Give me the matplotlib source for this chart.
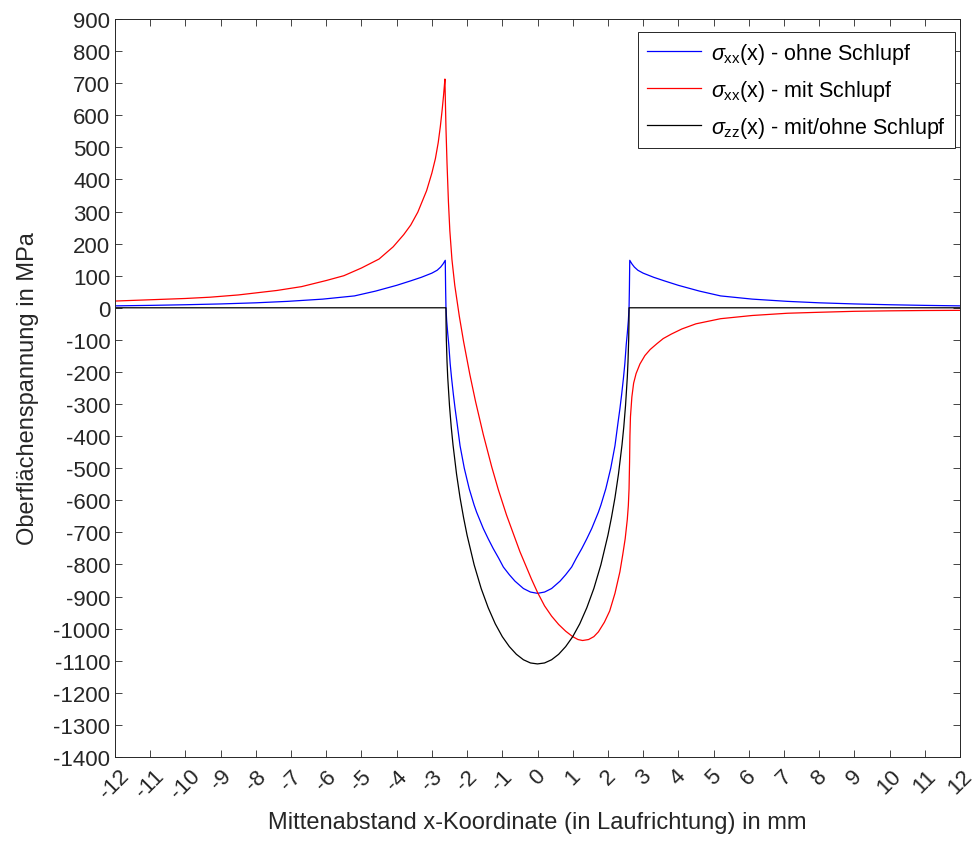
import numpy as np
from matplotlib import pyplot as plt

x_ohne = np.array([-12, -11, -10, -9, -8, -7.1, -6.1, -5.2, -4.6, -4.0, -3.6, -3.3, -3.0, -2.85, -2.75, -2.68, -2.62,
                   -2.61, -2.6, -2.58, -2.55, -2.52, -2.48, -2.44, -2.39, -2.34, -2.29, -2.2, -2.08, -1.94, -1.8,
                   -1.73, -1.54, -1.4, -1.26, -1.1, -0.97, -0.8, -0.64, -0.4, -0.2, 0,
                   0.2, 0.4, 0.64, 0.8, 0.97, 1.1, 1.26, 1.4, 1.54, 1.73, 1.8, 1.94, 2.08, 2.2, 2.29, 2.34, 2.39,
                   2.44, 2.48, 2.52, 2.55, 2.58, 2.6, 2.61, 2.62, 2.68, 2.75, 2.85, 3.0, 3.3, 3.6, 4.0, 4.6, 5.2,
                   6.1, 7.1, 8, 9, 10, 11, 12])
s_ohne = np.array([6, 7.5, 9.5, 12, 15.5, 20, 27, 37, 52, 70, 84, 95, 108, 117, 127, 137, 148,
                   60, 0, -40, -80, -115, -175, -220, -270, -315, -355, -430, -500, -564, -615,
                   -637, -688, -720, -750, -781, -808, -832, -852, -875, -886, -890,
                   -886, -875, -852, -832, -808, -781, -750, -720, -688, -637, -615, -564, -500, -430, -355, -315,
                   -270, -220, -175, -115, -80, -40, 0, 60, 148, 137, 127, 117, 108, 95, 84, 70, 52, 37,
                   27, 20, 15.5, 12, 9.5, 7.5, 6])

x_mit = np.array([-12, -11, -10, -9.3, -8.5, -7.4, -6.7, -6.0, -5.5, -5.0, -4.5, -4.1, -3.8, -3.6, -3.4, -3.15,
                  -3.0, -2.9, -2.82, -2.76, -2.71, -2.67, -2.645, -2.63,
                  -2.62, -2.6, -2.57, -2.53, -2.49, -2.43, -2.35, -2.22, -2.1, -1.92, -1.76, -1.54, -1.3, -1.11,
                  -0.88, -0.5, -0.17, 0, 0.2, 0.4, 0.6, 0.8, 1.0, 1.15, 1.28, 1.45, 1.6, 1.73, 1.9, 2.05, 2.2,
                  2.34, 2.42, 2.49, 2.55, 2.58, 2.6, 2.615, 2.625, 2.64, 2.68, 2.73, 2.8, 2.91, 3.05, 3.2, 3.39,
                  3.57, 3.8, 4.1, 4.5, 5.2, 6.1, 7.1, 8, 9, 10, 11, 12])
s_mit = np.array([21, 25, 29, 33, 40, 54, 66, 85, 100, 124, 152, 190, 228, 258, 298, 365,
                  420, 465, 515, 565, 615, 660, 693, 713,
                  660, 560, 450, 330, 240, 150, 70, -27, -105, -209, -292, -395, -496, -568,
                  -646, -760, -846, -887, -929, -961, -987, -1008, -1025, -1034, -1037, -1034, -1025, -1010, -980,
                  -945, -890, -823, -770, -720, -660, -616, -564, -480, -400, -340, -278, -235, -205, -175, -149,
                  -130, -112, -96, -82, -66, -50, -34, -24, -17, -14, -11, -9.5, -8.5, -8])

x_zz = np.array([-12, -2.6, -2.598, -2.59, -2.57, -2.55, -2.5, -2.45, -2.4, -2.3, -2.2, -2.1, -2.0, -1.8, -1.6,
                 -1.4, -1.2, -1.0, -0.8, -0.6, -0.4, -0.2, 0, 0.2, 0.4, 0.6, 0.8, 1.0, 1.2, 1.4, 1.6, 1.8, 2.0,
                 2.1, 2.2, 2.3, 2.4, 2.45, 2.5, 2.55, 2.57, 2.59, 2.598, 2.6, 12])
s_zz = np.array([0, 0, -44, -97, -168, -217, -305, -372, -427, -518, -592, -654, -709, -801, -875,
                 -935, -985, -1025, -1056, -1080, -1097, -1107, -1110, -1107, -1097, -1080, -1056, -1025, -985,
                 -935, -875, -801, -709, -654, -592, -518, -427, -372, -305, -217, -168, -97, -44, 0, 0])

labels = [r'$\sigma_{\rm xx}$(x) - ohne Schlupf',
          r'$\sigma_{\rm xx}$(x) - mit Schlupf',
          r'$\sigma_{\rm zz}$(x) - mit/ohne Schlupf']

plt.rcParams['font.family'] = ['Liberation Sans', 'DejaVu Sans']
plt.rcParams['mathtext.fontset'] = 'custom'
plt.rcParams['mathtext.rm'] = 'Liberation Sans'
plt.rcParams['mathtext.it'] = 'Liberation Sans:italic'
plt.rcParams['axes.unicode_minus'] = False

fig = plt.figure(figsize=(9.78, 8.45), dpi=100)
ax = fig.add_axes([0.1176, 0.1030, 0.8640, 0.8733])

ax.plot(x_ohne, s_ohne, color=(0, 0, 1), lw=0.9, label=labels[0])
ax.plot(x_mit, s_mit, color=(1, 0, 0), lw=0.9, label=labels[1])
ax.plot(x_zz, s_zz, color='k', lw=0.9, label=labels[2])

ax.set_xlim(-12, 12)
ax.set_ylim(-1400, 900)
ax.set_xticks(np.arange(-12, 13, 1))
ax.set_yticks(np.arange(-1400, 901, 100))
ax.tick_params(direction='in', length=5, width=0.6, top=True, right=True, labelsize=16, colors='#262626')
ax.tick_params(axis='x', pad=6)
plt.setp(ax.get_xticklabels(), rotation=45, ha='center', va='top')
for sp in ax.spines.values():
    sp.set_color('#262626')
    sp.set_linewidth(0.7)

ax.set_xlabel('Mittenabstand x-Koordinate (in Laufrichtung) in mm', fontsize=17, color='#262626', labelpad=6)
ax.set_ylabel('Oberflächenspannung in MPa', fontsize=17, color='#262626', labelpad=10)

leg = ax.legend(loc='upper right', bbox_to_anchor=(0.994, 0.982), borderaxespad=0, fontsize=15.5,
                fancybox=False, edgecolor='#262626', framealpha=1,
                handlelength=2.5, handletextpad=0.5, labelspacing=0.55)
leg.get_frame().set_linewidth(0.7)

fig.savefig('out.png', dpi=100)
